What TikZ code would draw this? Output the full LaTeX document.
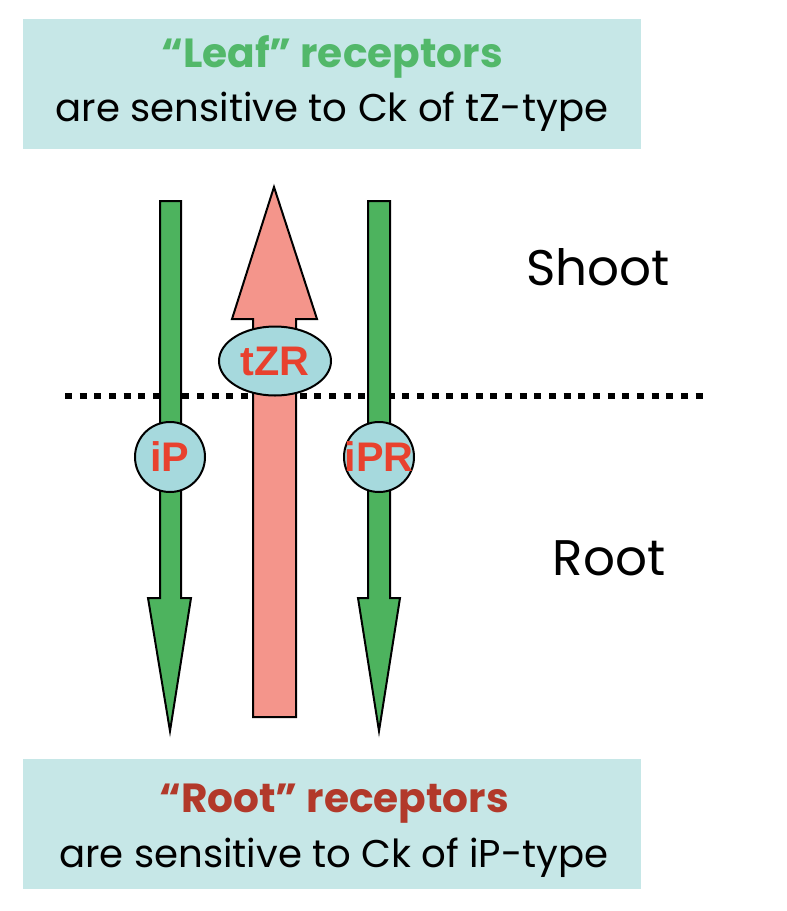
\documentclass[tikz,border=0pt]{standalone}
\usepackage{fontspec}
\setmainfont{Poppins}
\newfontfamily\lblfont{Liberation Sans}
\usetikzlibrary{shapes.geometric}
\definecolor{boxfill}{HTML}{C6E7E7}
\definecolor{greenarrow}{HTML}{4DB35E}
\definecolor{pinkarrow}{HTML}{F4958B}
\definecolor{ellfill}{HTML}{A6D9DD}
\definecolor{lblred}{HTML}{E8412E}
\definecolor{leafgreen}{HTML}{52B86A}
\definecolor{rootred}{HTML}{B2392A}
\tikzset{
  infobox/.style={fill=boxfill, draw=none},
  greenshape/.style={fill=greenarrow, draw=black, line width=1.5pt, line join=miter},
  pinkshape/.style={fill=pinkarrow, draw=black, line width=1.5pt, line join=miter},
  receptor/.style={fill=ellfill, draw=black, line width=1.5pt, inner sep=0pt, text=lblred, font=\lblfont\bfseries\fontsize{31}{33}\selectfont},
  regionlbl/.style={font=\fontsize{37.5}{40}\selectfont, anchor=center, inner sep=0pt},
  titlelbl/.style={font=\bfseries\fontsize{30.5}{34}\selectfont, inner sep=0pt},
  sublbl/.style={font=\fontsize{29}{33}\selectfont, inner sep=0pt},
  divider/.style={line width=4.5pt, dash pattern=on 5.2pt off 5.8pt}
}
\begin{document}
\begin{tikzpicture}[x=0.75pt,y=-0.75pt]
\useasboundingbox (0,0) rectangle (787,911);
% boxes
\path[infobox] (23,19) rectangle (641,149);
\path[infobox] (23,759) rectangle (641,889);
\node[titlelbl, text=leafgreen] (leaftitle) at (332,57) {“Leaf” receptors};
\node[sublbl] (leafsub) at (332,112) {are sensitive to Ck of tZ-type};
\node[titlelbl, text=rootred] (roottitle) at (334,804) {“Root” receptors};
\node[sublbl] (rootsub) at (334,858) {are sensitive to Ck of iP-type};
% region labels
\node[regionlbl] (shoot) at (598,267) {Shoot};
\node[regionlbl] (root) at (609,558) {Root};
% divider
\draw[divider] (65,396) -- (708,396);
% green arrows (downward)
\draw[greenshape] (160,201) -- (181,201) -- (181,598) -- (191,598) -- (170,731) -- (148,598) -- (160,598) -- cycle;
\draw[greenshape] (368,201) -- (390,201) -- (390,598) -- (400,598) -- (379,731) -- (358,598) -- (368,598) -- cycle;
% pink arrow (upward)
\draw[pinkshape] (253,717) -- (296,717) -- (296,319) -- (317,319) -- (274,187) -- (232,319) -- (253,319) -- cycle;
% receptors
\node[receptor, ellipse, minimum width=112*0.75pt, minimum height=69*0.75pt] (tzr) at (275,361) {tZR};
\node[receptor, circle, minimum size=70*0.75pt] (ip) at (170,457) {iP};
\node[receptor, circle, minimum size=70*0.75pt] (ipr) at (379,457) {\makebox[0pt]{iPR}};
\end{tikzpicture}
\end{document}
